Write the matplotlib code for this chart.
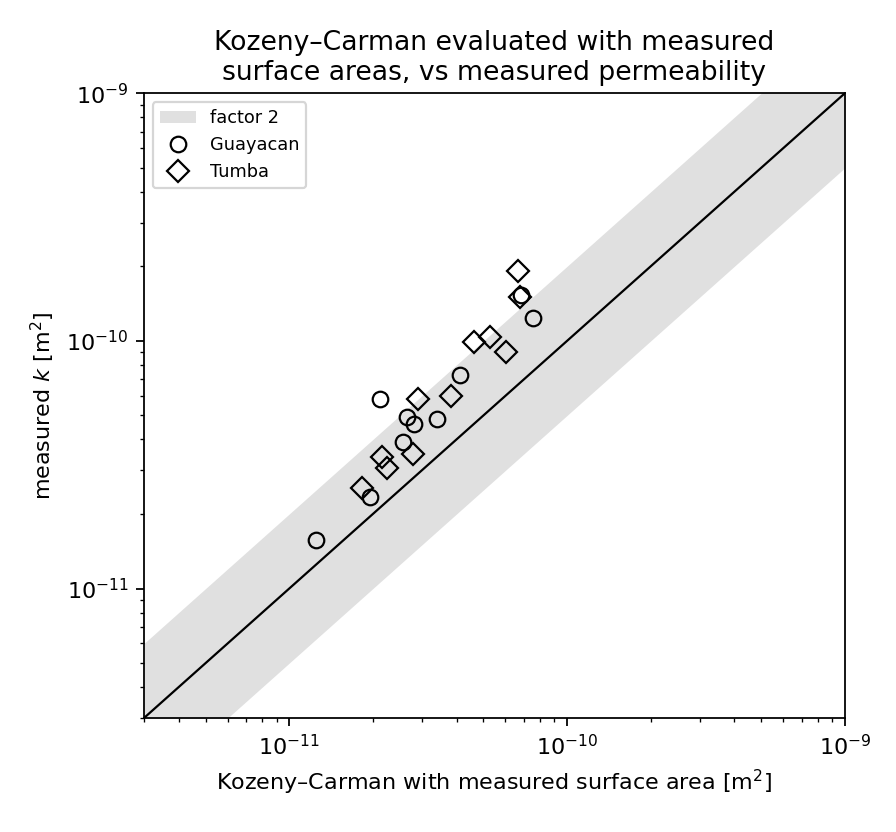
import numpy as np
import matplotlib
matplotlib.use("Agg")
import matplotlib.pyplot as plt

# Kozeny-Carman estimate (x) vs measured permeability (y), m^2
guayacan_kc = [1.25e-11, 2.12e-11, 2.65e-11, 2.81e-11, 3.40e-11,
               4.12e-11, 2.56e-11, 1.95e-11, 7.54e-11, 6.82e-11]
guayacan_k = [1.57e-11, 5.82e-11, 4.92e-11, 4.61e-11, 4.83e-11,
              7.27e-11, 3.90e-11, 2.34e-11, 1.24e-10, 1.53e-10]

tumba_kc = [6.65e-11, 6.77e-11, 4.62e-11, 5.28e-11, 6.03e-11, 2.90e-11,
            3.82e-11, 2.16e-11, 2.25e-11, 2.79e-11, 1.83e-11]
tumba_k = [1.91e-10, 1.50e-10, 9.88e-11, 1.035e-10, 9.0e-11, 5.82e-11,
           5.98e-11, 3.39e-11, 3.06e-11, 3.49e-11, 2.54e-11]

lims = [3e-12, 1e-9]

fig, ax = plt.subplots(figsize=(5.6, 5.2), dpi=160)
fig.subplots_adjust(left=0.1607, right=0.943, bottom=0.137, top=0.888)

xx = np.array(lims)
ax.fill_between(xx, xx / 2, xx * 2, color='#e0e0e0', lw=0, label='factor 2')
ax.plot(xx, xx, color='k', lw=1)

ax.plot(guayacan_kc, guayacan_k, 'o', ms=7, mfc='none', mec='k', label='Guayacan')
ax.plot(tumba_kc, tumba_k, 'D', ms=7, mfc='none', mec='k', label='Tumba')

ax.set_xscale('log')
ax.set_yscale('log')
ax.set_xlim(lims)
ax.set_ylim(lims)
ax.set_xlabel('Kozeny–Carman with measured surface area [m$^2$]')
ax.set_ylabel('measured $k$ [m$^2$]')
ax.set_title('Kozeny–Carman evaluated with measured\nsurface areas, vs measured permeability')
ax.legend(loc='upper left', fontsize=8)

fig.savefig('out.png', dpi=160)
